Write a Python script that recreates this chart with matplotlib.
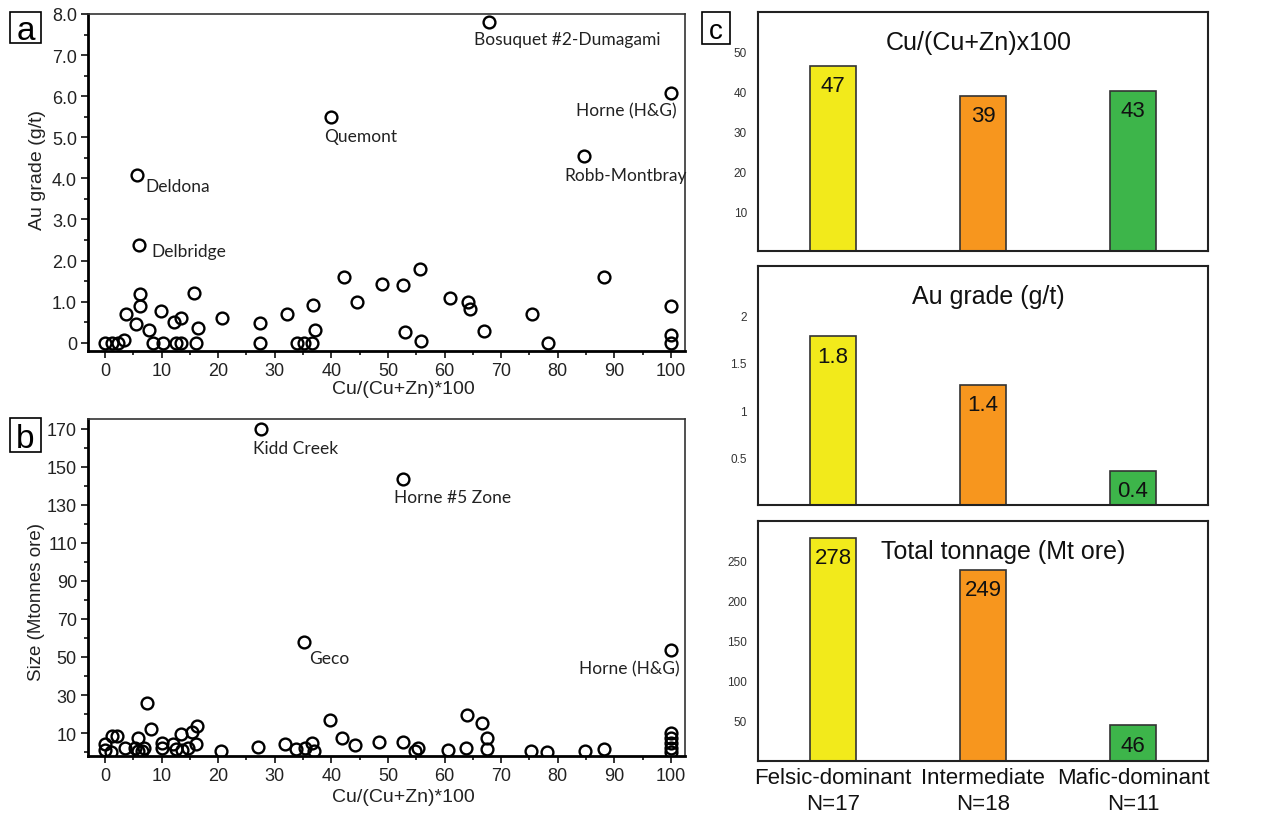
import matplotlib
matplotlib.use("Agg")
import matplotlib.pyplot as plt
from matplotlib.patches import Rectangle
from matplotlib.ticker import MultipleLocator

plt.rcParams["font.family"] = ["Liberation Sans", "DejaVu Sans"]

# --- panel a: Au grade (g/t) vs Cu/(Cu+Zn)*100 ---
a_cu = [0, 1.2, 2.3, 3.4, 8.4, 10.3, 12.5, 13.5, 16.1, 27.4, 33.9, 35.1, 36.5, 55.8, 78.3, 100,
        3.7, 5.5, 6.2, 6.2, 7.8, 9.9, 12.2, 13.5, 15.8, 16.4, 20.7, 27.4, 32.2, 36.8, 37.2,
        42.2, 44.5, 48.9, 52.6, 53.0, 55.6, 61.0, 64.2, 64.5, 67.0, 75.4, 88.2, 100, 100]
a_au = [0, 0, 0, 0.06, 0, 0, 0, 0, 0, 0, 0, 0, 0, 0.04, 0, 0,
        0.69, 0.45, 1.19, 0.90, 0.31, 0.77, 0.51, 0.60, 1.21, 0.35, 0.60, 0.48, 0.69, 0.91, 0.31,
        1.60, 1.00, 1.44, 1.41, 0.27, 1.80, 1.10, 1.00, 0.83, 0.28, 0.70, 1.60, 0.90, 0.19]
a_names = ["Bosuquet #2-Dumagami", "Horne (H&G)", "Quemont", "Robb-Montbray", "Deldona", "Delbridge"]
a_names_cu = [67.8, 100, 40.0, 84.7, 5.6, 6.0]
a_names_au = [7.8, 6.08, 5.5, 4.55, 4.09, 2.38]

# --- panel b: size (Mt ore) vs Cu/(Cu+Zn)*100 ---
b_cu = [0, 0, 1.1, 1.2, 2.2, 3.6, 5.9, 5.3, 5.9, 6.6, 6.9, 7.5, 8.1, 10.0, 10.1, 12.1, 12.5,
        13.4, 13.6, 14.7, 15.4, 16.0, 16.2, 20.5, 27.1, 31.9, 33.7, 35.4, 36.5, 36.9, 39.8,
        41.9, 44.1, 48.5, 52.6, 54.8, 55.3, 60.6, 63.8, 64.0, 66.7, 67.5, 67.5, 75.2, 78.2,
        84.8, 88.2, 100, 100, 100, 100, 100]
b_size = [4.2, 1.0, 0, 8.3, 8.3, 2.1, 7.2, 2.1, 0.7, 0.7, 2.4, 25.8, 12.4, 4.7, 2.1, 4.2, 1.6,
          9.5, 1.0, 2.4, 10.4, 4.2, 13.9, 0.7, 2.8, 4.2, 1.9, 2.1, 4.7, 0.7, 16.8,
          7.7, 3.7, 5.1, 5.4, 0.7, 2.4, 1.2, 2.4, 19.5, 15.3, 7.7, 1.9, 0.4, 0.2,
          0.4, 1.6, 10.0, 7.2, 4.7, 2.1, 0]
b_names = ["Kidd Creek", "Horne #5 Zone", "Geco", "Horne (H&G)"]
b_names_cu = [27.5, 52.6, 35.2, 100]
b_names_size = [170, 143.5, 58, 53.5]

# --- panel c: group averages ---
groups = ["Felsic-dominant\nN=17", "Intermediate\nN=18", "Mafic-dominant\nN=11"]
group_colors = ["#F2EA1B", "#F7961E", "#3DB54A"]
cu_ratio_bar = [46.5, 39.0, 40.2]
cu_ratio_text = ["47", "39", "43"]
au_grade_bar = [1.78, 1.27, 0.36]
au_grade_text = ["1.8", "1.4", "0.4"]
tonnage_bar = [279, 239, 45]
tonnage_text = ["278", "249", "46"]

W, H = 1287, 820
fig = plt.figure(figsize=(W / 100, H / 100), dpi=100)


def px_axes(left, top, right, bottom):
    return fig.add_axes([left / W, 1 - bottom / H, (right - left) / W, (bottom - top) / H])


def panel_letter(x0, y0, x1, y1, letter, size):
    fig.add_artist(Rectangle((x0 / W, 1 - y1 / H), (x1 - x0) / W, (y1 - y0) / H,
                             transform=fig.transFigure, fill=False, ec="black", lw=1.2))
    fig.text((x0 + x1) / 2 / W, 1 - (y0 + y1) / 2 / H, letter, fontsize=size,
             ha="center", va="center_baseline")


def style_scatter_axes(ax):
    for side in ["left", "bottom"]:
        ax.spines[side].set_linewidth(2.0)
        ax.spines[side].set_color("black")
    for side in ["top", "right"]:
        ax.spines[side].set_linewidth(1.2)
        ax.spines[side].set_color("#333333")
    ax.tick_params(which="both", direction="out", labelsize=13, colors="#222222", width=1.3)
    ax.tick_params(which="major", length=5, pad=3)
    ax.tick_params(which="minor", length=3)
    ax.tick_params(top=False, right=False)
    ax.set_xlim(-3, 102.5)
    ax.xaxis.set_major_locator(MultipleLocator(10))
    ax.xaxis.set_minor_locator(MultipleLocator(5))
    ax.set_xlabel("Cu/(Cu+Zn)*100", fontsize=14, color="#222222")


circle = dict(ls="none", marker="o", ms=8.5, mfc="none", mec="black", mew=1.7)
label_font = dict(family=["Lato", "DejaVu Sans"], fontsize=12.5, color="#222222")

# panel a
ax_a = px_axes(88, 15, 685, 352)
ax_a.plot(a_cu, a_au, **circle)
ax_a.plot(a_names_cu, a_names_au, **circle)
a_offsets = [(-15, -17, "left"), (6, -17, "right"), (-7, -19, "left"),
             (-20, -19, "left"), (9, -11, "left"), (12, -6, "left")]
for name, x, y, (dx, dy, ha) in zip(a_names, a_names_cu, a_names_au, a_offsets):
    ax_a.annotate(name, (x, y), xytext=(dx, dy), textcoords="offset pixels",
                  ha=ha, va="center", **label_font)
style_scatter_axes(ax_a)
ax_a.set_ylim(-0.2, 8.0)
ax_a.yaxis.set_major_locator(MultipleLocator(1))
ax_a.yaxis.set_minor_locator(MultipleLocator(0.5))
ax_a.yaxis.set_major_formatter(lambda v, p: "0" if v == 0 else f"{v:.1f}")
ax_a.set_ylabel("Au grade (g/t)", fontsize=14, color="#222222")
ax_a.yaxis.set_label_coords(-0.07, 0.54)
ax_a.xaxis.set_label_coords(0.528, -0.085)

# panel b
ax_b = px_axes(88, 420, 685, 757)
ax_b.plot(b_cu, b_size, **circle)
ax_b.plot(b_names_cu, b_names_size, **circle)
b_offsets = [(-8, -19, "left"), (-9, -18, "left"), (5, -16, "left"), (9, -18, "right")]
for name, x, y, (dx, dy, ha) in zip(b_names, b_names_cu, b_names_size, b_offsets):
    ax_b.annotate(name, (x, y), xytext=(dx, dy), textcoords="offset pixels",
                  ha=ha, va="center", **label_font)
style_scatter_axes(ax_b)
ax_b.set_ylim(-2, 175)
ax_b.set_yticks(range(10, 171, 20))
ax_b.yaxis.set_minor_locator(MultipleLocator(10))
ax_b.set_ylabel("Size (Mtonnes ore)", fontsize=13.5, color="#222222")
ax_b.yaxis.set_label_coords(-0.072, 0.46)
ax_b.xaxis.set_label_coords(0.528, -0.095)

panel_letter(10, 13, 41, 44, "a", 24)
panel_letter(10, 419, 41, 453, "b", 24)
panel_letter(702, 13, 730, 45, "c", 20)

# panel c
bar_panels = [
    (13, 252, cu_ratio_bar, cu_ratio_text, "Cu/(Cu+Zn)x100", (0, 60), [10, 20, 30, 40, 50],
     ["10", "20", "30", "40", "50"], 0.49),
    (267, 506, au_grade_bar, au_grade_text, "Au grade (g/t)", (0, 2.52), [0.5, 1, 1.5, 2],
     ["0.5", "1", "1.5", "2"], 0.511),
    (522, 762, tonnage_bar, tonnage_text, "Total tonnage (Mt ore)", (0, 300),
     [50, 100, 150, 200, 250], ["50", "100", "150", "200", "250"], 0.545),
]
pos = range(len(groups))
for i, (top, bottom, vals, texts, title, ylim, ticks, ticklabels, tx) in enumerate(bar_panels):
    ax = px_axes(758, top, 1208, bottom)
    bars = ax.bar(pos, vals, width=0.31, color=group_colors, edgecolor="#333333", linewidth=1.2)
    for b, t in zip(bars, texts):
        ax.annotate(t, (b.get_x() + b.get_width() / 2, b.get_height()), xytext=(0, -20),
                    textcoords="offset pixels", ha="center", va="center", fontsize=16,
                    color="#111111")
    ax.set_xlim(-0.5, 2.5)
    ax.set_ylim(*ylim)
    ax.set_yticks(ticks)
    ax.set_yticklabels(ticklabels)
    ax.tick_params(axis="y", length=0, pad=8, labelsize=8.5, labelcolor="#333333")
    ax.text(tx, 1 - 30 / (bottom - top), title, transform=ax.transAxes, ha="center",
            va="center", fontsize=18, color="#111111")
    for s in ax.spines.values():
        s.set_linewidth(1.5)
        s.set_color("#222222")
    if i == 2:
        ax.set_xticks(list(pos))
        ax.set_xticklabels(groups, fontsize=16, color="#111111", linespacing=1.35)
        ax.tick_params(axis="x", length=0, pad=4)
    else:
        ax.set_xticks([])

fig.savefig("out.png", dpi=100)
plt.close(fig)
